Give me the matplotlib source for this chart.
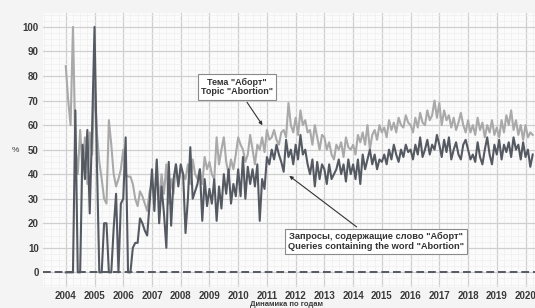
import numpy as np
import matplotlib
matplotlib.use("Agg")
import matplotlib.pyplot as plt
from matplotlib.ticker import MultipleLocator

plt.rcParams['font.family'] = ['Liberation Sans', 'DejaVu Sans']

# помесячные значения, янв 2004 - апр 2020
start_year = 2004
topic = [
    84, 70, 60, 100, 52, 40, 58, 42, 55, 36, 57, 48,   # 2004
    77, 57, 45, 38, 30, 28, 62, 52, 40, 35, 38, 42,    # 2005
    50, 40, 39, 39, 36, 30, 27, 33, 31, 28, 25, 33,    # 2006
    36, 30, 45, 28, 40, 32, 44, 28, 38, 32, 44, 36,    # 2007
    42, 40, 38, 44, 36, 46, 40, 38, 42, 36, 47, 42,    # 2008
    45, 40, 38, 55, 44, 50, 55, 45, 40, 46, 42, 48,    # 2009
    55, 52, 50, 45, 48, 56, 50, 44, 52, 50, 55, 49,    # 2010
    58, 54, 55, 58, 54, 52, 57, 58, 55, 69, 60, 57,    # 2011
    63, 56, 66, 60, 62, 57, 58, 52, 60, 55, 50, 56,    # 2012
    55, 50, 53, 48, 46, 52, 50, 53, 47, 55, 51, 50,    # 2013
    52, 48, 56, 53, 57, 52, 60, 50, 56, 58, 54, 60,    # 2014
    57, 59, 55, 62, 58, 61, 57, 63, 60, 59, 64, 61,    # 2015
    60, 57, 63, 59, 65, 61, 60, 66, 62, 64, 70, 63,    # 2016
    69, 60, 66, 62, 64, 59, 63, 58, 61, 65, 60, 57,    # 2017
    62, 57, 60, 56, 63, 58, 61, 55, 60, 57, 62, 56,    # 2018
    59, 55, 62, 57, 64, 60, 66, 58, 62, 56, 60, 54,    # 2019
    60, 55, 57, 56,                                    # 2020
]
queries = [
    0, 0, 0, 0, 66, 0, 0, 52, 38, 58, 24, 59,          # 2004
    100, 45, 0, 0, 20, 20, 0, 0, 18, 32, 0, 28,        # 2005
    30, 55, 0, 0, 10, 12, 12, 22, 20, 17, 15, 28,      # 2006
    42, 25, 46, 20, 35, 24, 10, 45, 19, 38, 44, 35,    # 2007
    44, 40, 16, 30, 51, 30, 33, 36, 42, 21, 38, 27,    # 2008
    34, 28, 38, 21, 35, 26, 40, 32, 42, 28, 36, 31,    # 2009
    42, 31, 47, 30, 43, 36, 42, 35, 44, 21, 38, 34,    # 2010
    47, 44, 50, 46, 52, 48, 45, 41, 54, 47, 50, 44,    # 2011
    52, 46, 56, 48, 50, 44, 40, 46, 35, 45, 38, 44,    # 2012
    42, 36, 44, 38, 40, 42, 46, 40, 44, 37, 46, 40,    # 2013
    44, 38, 46, 36, 48, 42, 46, 50, 44, 48, 42, 46,    # 2014
    45, 48, 44, 50, 46, 52, 48, 45, 50, 47, 52, 49,    # 2015
    50, 46, 52, 48, 55, 47, 50, 54, 48, 52, 50, 56,    # 2016
    52, 47, 54, 49, 55, 46, 50, 53, 48, 46, 52, 54,    # 2017
    50, 46, 48, 45, 53, 47, 44, 50, 55, 48, 44, 52,    # 2018
    48, 54, 46, 52, 49, 53, 47, 55, 50, 52, 46, 53,    # 2019
    47, 50, 43, 48,                                    # 2020
]
years = list(range(2004, 2021))

t = start_year + np.arange(len(topic)) / 12.0

fig = plt.figure(figsize=(5.35, 3.08), dpi=100, facecolor='#f4f4f4')
ax = fig.add_axes([0.08, 0.068, 0.92, 0.89])
ax.set_facecolor('#fbfbfb')

ax.plot(t, topic, color='#a9a9a9', linewidth=1.5, zorder=3)
ax.plot(t, queries, color='#555a62', linewidth=1.5, zorder=4)
ax.axhline(0, color='#555a62', linewidth=1.4, linestyle=(0, (4, 2)), zorder=2)

ax.set_xlim(2003.2, 2020.33)
ax.set_ylim(-6, 105.7)
ax.set_xticks(years)
ax.set_yticks(range(0, 101, 10))
ax.xaxis.set_minor_locator(MultipleLocator(0.25))
ax.yaxis.set_minor_locator(MultipleLocator(2.5))
ax.grid(True, which='major', color='#cfcfcf', linewidth=0.9)
ax.grid(True, which='minor', color='#efefef', linewidth=0.5)
ax.set_axisbelow(True)
ax.tick_params(which='both', length=0, labelsize=7, labelcolor='#3a3a3a', pad=3)
for lab in ax.get_xticklabels() + ax.get_yticklabels():
    lab.set_fontweight('bold')
for s in ax.spines.values():
    s.set_visible(False)

fig.text(0.028, 0.51, '%', fontsize=6, color='#3a3a3a', ha='center', va='center')
fig.text(0.535, 0.012, 'Динамика по годам', fontsize=5.5, fontweight='bold',
         color='#3a3a3a', ha='center', va='center')

box = dict(boxstyle='square,pad=0.35', fc='white', ec='#8a8a8a', lw=0.8)
arrow = dict(arrowstyle='-|>', color='#333333', lw=0.8, mutation_scale=5)
ax.annotate('Тема "Аборт"\nTopic "Abortion"', xy=(2010.9, 59), xytext=(2009.95, 75.5),
            fontsize=6.5, fontweight='bold', color='#333333', ha='center', va='center',
            bbox=box, arrowprops=arrow, linespacing=1.1)
ax.annotate('Запросы, содержащие слово "Аборт"\nQueries containing the word "Abortion"',
            xy=(2011.7, 40), xytext=(2014.8, 12.5),
            fontsize=6.7, fontweight='bold', color='#333333', ha='center', va='center',
            bbox=box, arrowprops=arrow, linespacing=1.1)

fig.savefig('out.png', dpi=100, facecolor=fig.get_facecolor())
